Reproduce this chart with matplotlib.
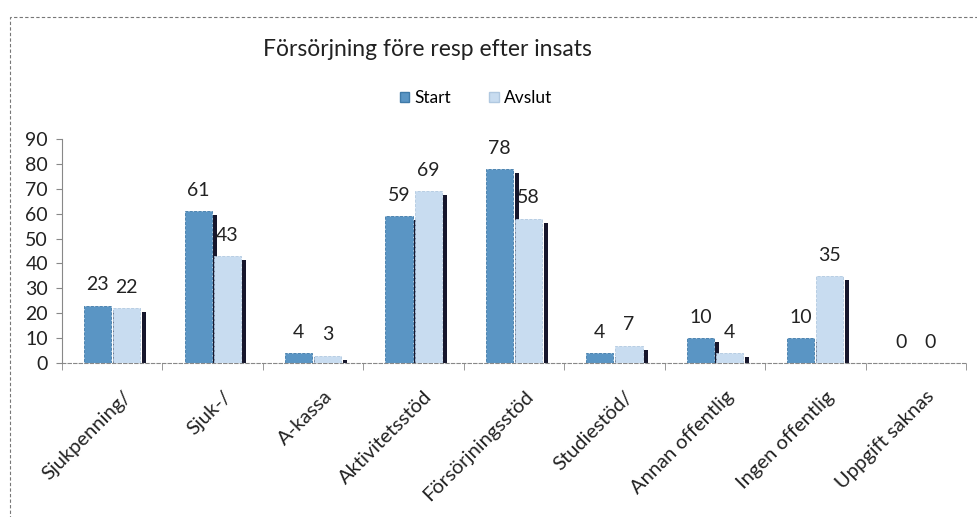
import numpy as np
import matplotlib.pyplot as plt
from matplotlib.patches import Rectangle, Patch
from matplotlib.transforms import ScaledTranslation

plt.rcParams['font.family'] = ['Lato', 'DejaVu Sans']

categories = ['Sjukpenning/', 'Sjuk-/', 'A-kassa', 'Aktivitetsstöd',
              'Försörjningsstöd', 'Studiestöd/', 'Annan offentlig',
              'Ingen offentlig', 'Uppgift saknas']
start = [23, 61, 4, 59, 78, 4, 10, 10, 0]
avslut = [22, 43, 3, 69, 58, 7, 4, 35, 0]

c_start = '#5a95c4'
c_avslut = '#c8dcf0'
c_shadow = '#16162c'

fig = plt.figure(figsize=(9.78, 5.17), dpi=100)
ax = fig.add_axes([62 / 978, 1 - 363 / 517, 904 / 978, 224 / 517])

x = np.arange(len(categories))
w = 0.27
off = 0.145
drop = 1.6

# drop shadows on the right side of each bar
for vals, dx in ((start, -off), (avslut, off)):
    for xi, v in zip(x, vals):
        if v > 0:
            ax.bar(xi + dx + w / 2 + 0.035, v - drop, width=0.04,
                   color=c_shadow, zorder=1)

ax.bar(x - off, start, w, color=c_start, edgecolor='#3f7aa8',
       linewidth=0.6, linestyle='--', zorder=2)
ax.bar(x + off, avslut, w, color=c_avslut, edgecolor='#b0c8e0',
       linewidth=0.6, linestyle='--', zorder=3)

for vals, dx in ((start, -off), (avslut, off)):
    for xi, v in zip(x, vals):
        ax.annotate(str(v), (xi + dx, v), xytext=(0, 15),
                    textcoords='offset points', ha='center', va='center',
                    fontsize=14, color='#222222')

ax.set_xlim(-0.5, len(categories) - 0.5)
ax.set_ylim(0, 90)
ax.set_yticks(range(0, 91, 10))
ax.tick_params(axis='y', labelsize=14, length=4, color='#888888',
               labelcolor='#222222', pad=6)

ax.set_xticks(x)
ax.set_xticks(np.arange(-0.5, len(categories), 1), minor=True)
ax.tick_params(axis='x', which='major', length=0, pad=18)
ax.tick_params(axis='x', which='minor', length=5, color='#888888')
ax.set_xticklabels(categories, rotation=45, ha='right',
                   rotation_mode='anchor', fontsize=14.5, color='#222222')
for lab in ax.get_xticklabels():
    lab.set_transform(lab.get_transform() +
                      ScaledTranslation(10 / 100, 0, fig.dpi_scale_trans))

for s in ('top', 'right'):
    ax.spines[s].set_visible(False)
ax.spines['left'].set_color('#888888')
ax.spines['bottom'].set_color('#888888')
ax.spines['bottom'].set_linestyle((0, (3, 2)))

fig.text(427 / 978, 1 - 50 / 517, 'Försörjning före resp efter insats',
         ha='center', va='center', fontsize=16.5, color='#222222')

handles = [Patch(facecolor=c_start, edgecolor='#3f7aa8'),
           Patch(facecolor=c_avslut, edgecolor='#b0c8e0')]
fig.legend(handles, ['Start', 'Avslut'], loc='center',
           bbox_to_anchor=(476 / 978, 1 - 98 / 517), ncol=2, frameon=False,
           fontsize=12.5, handlelength=0.55, handleheight=0.55,
           handletextpad=0.3, columnspacing=2.2)

fig.patches.append(Rectangle((10 / 978, -0.05), 1.1, 1 - 17 / 517 + 0.05,
                             transform=fig.transFigure, fill=False,
                             edgecolor='#777777', linewidth=0.8,
                             linestyle=(0, (3, 2))))

fig.savefig('out.png', dpi=100)
